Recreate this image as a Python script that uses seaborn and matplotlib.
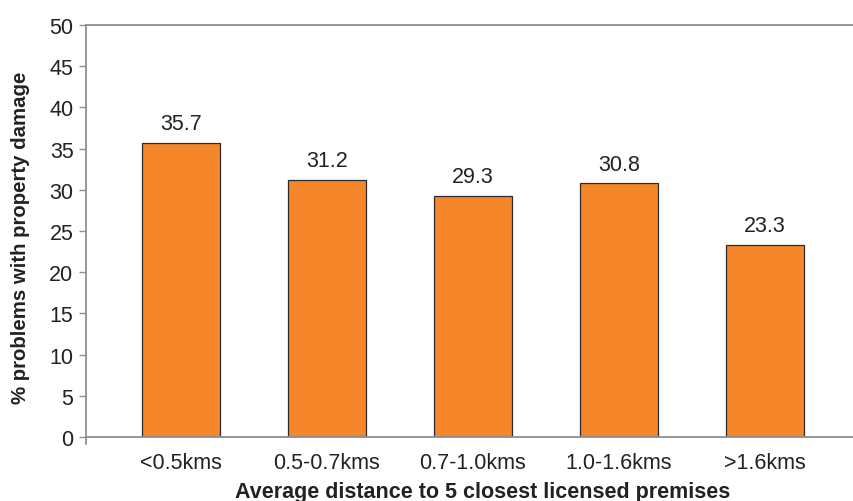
import matplotlib
matplotlib.use("Agg")
import matplotlib.pyplot as plt
import seaborn as sns
import pandas as pd

categories = ["<0.5kms", "0.5-0.7kms", "0.7-1.0kms", "1.0-1.6kms", ">1.6kms"]
values = [35.7, 31.2, 29.3, 30.8, 23.3]
y_ticks = [0, 5, 10, 15, 20, 25, 30, 35, 40, 45, 50]

sns.set_theme(style="white")
plt.rcParams["font.family"] = ["Liberation Sans", "DejaVu Sans"]

df = pd.DataFrame({"distance": categories, "pct": values})

fig = plt.figure(figsize=(8.54, 5.02), dpi=100)
ax = fig.add_axes([86 / 854, 1 - 438 / 502, (860 - 86) / 854, (438 - 26) / 502])

sns.barplot(data=df, x="distance", y="pct", ax=ax, color="#F5872A",
            saturation=1, width=0.53, edgecolor="#2b2b2b", linewidth=0.9)

for i, v in enumerate(values):
    ax.text(i, v + 1.65, f"{v:.1f}", ha="center", va="baseline",
            fontsize=15.5, color="#222222")

ax.set_xlim(-0.65, 4.65)
ax.set_ylim(0, 50)
ax.set_yticks(y_ticks)
ax.tick_params(axis="y", which="both", left=True, length=5, width=1,
               color="#8a9099", labelsize=15.5, labelcolor="#222222", pad=4)
ax.tick_params(axis="x", bottom=False, labelsize=15.5, labelcolor="#222222", pad=5)

for side in ["left", "bottom", "top"]:
    ax.spines[side].set_visible(True)
    ax.spines[side].set_color("#8a9099")
    ax.spines[side].set_linewidth(1.3)
ax.spines["right"].set_visible(False)

# small downward mark at the lower-left corner
ax.plot([-0.65, -0.65], [0, -0.9], color="#8a9099", lw=1.3, clip_on=False)

ax.set_xlabel("")
ax.set_ylabel("% problems with property damage", fontsize=14.7, fontweight="bold",
              color="#222222")
ax.yaxis.set_label_coords(-(86 - 30) / 774, (438 - 238) / 412)

fig.text(483 / 854, 1 - 493 / 502, "Average distance to 5 closest licensed premises",
         ha="center", va="center", fontsize=15.5, fontweight="bold", color="#222222")

fig.savefig("out.png", dpi=100)
